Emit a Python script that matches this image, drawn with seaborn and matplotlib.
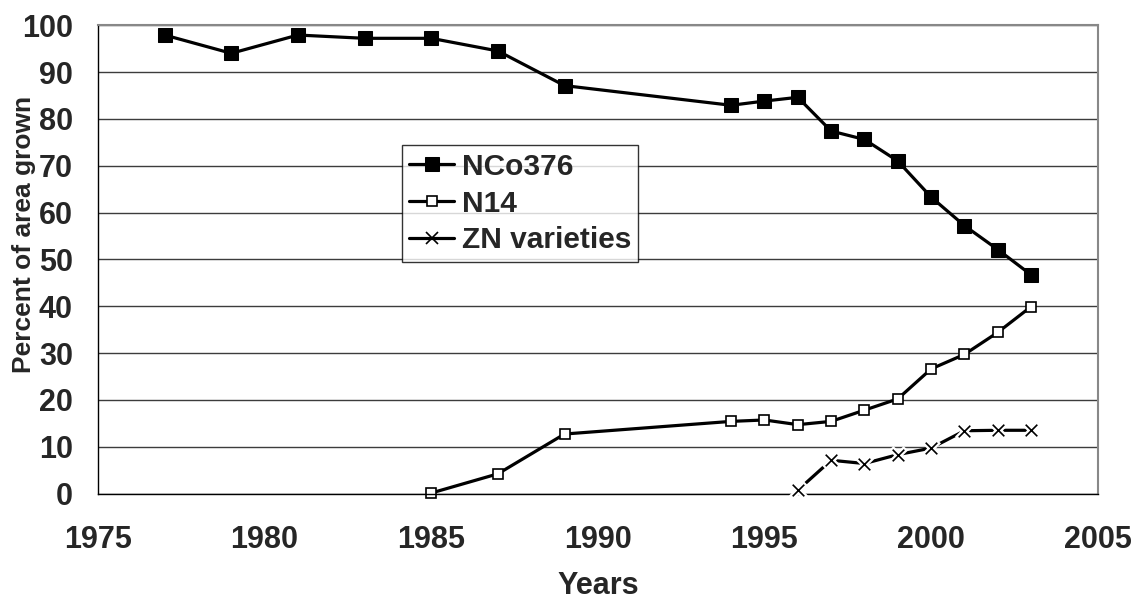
import numpy as np
import pandas as pd
import matplotlib
matplotlib.use("Agg")
import matplotlib.pyplot as plt
import seaborn as sns

# values
nco_years = [1977, 1979, 1981, 1983, 1985, 1987, 1989, 1994, 1995, 1996,
             1997, 1998, 1999, 2000, 2001, 2002, 2003]
nco_pct = [97.9, 94.0, 97.9, 97.2, 97.2, 94.5, 87.1, 82.9, 83.8, 84.6,
           77.4, 75.6, 71.0, 63.3, 57.2, 52.1, 46.7]

n14_years = [1985, 1987, 1989, 1994, 1995, 1996, 1997, 1998, 1999, 2000,
             2001, 2002, 2003]
n14_pct = [0.1, 4.2, 12.7, 15.4, 15.7, 14.7, 15.4, 17.8, 20.2, 26.6,
           29.7, 34.4, 39.9]

zn_years = [1996, 1997, 1998, 1999, 2000, 2001, 2002, 2003]
zn_pct = [0.7, 7.1, 6.4, 8.3, 9.7, 13.4, 13.5, 13.5]

sns.set_style("white")
plt.rcParams["font.family"] = ["Liberation Sans", "DejaVu Sans"]
plt.rcParams["font.weight"] = "bold"

fig, ax = plt.subplots(figsize=(11.34, 6), dpi=100)
fig.subplots_adjust(left=0.0864, right=0.968, top=0.958, bottom=0.1775)

sns.lineplot(x=nco_years, y=nco_pct, ax=ax, color="black", linewidth=2.3,
             marker="s", markersize=10.5, markerfacecolor="black",
             markeredgecolor="black", label="NCo376", clip_on=False)
sns.lineplot(x=n14_years, y=n14_pct, ax=ax, color="black", linewidth=2.3,
             marker="s", markersize=6.5, markerfacecolor="white",
             markeredgecolor="black", markeredgewidth=1.2, label="N14",
             clip_on=False)
sns.lineplot(x=zn_years, y=zn_pct, ax=ax, color="black", linewidth=2.3,
             marker="x", markersize=8, markeredgewidth=1.2,
             markeredgecolor="black", label="ZN varieties", clip_on=False)
# white halo under the crosses gives the small gaps seen in the original
sns.scatterplot(x=zn_years, y=zn_pct, ax=ax, marker="x", s=110, color="white",
                linewidth=4.5, zorder=3, legend=False, clip_on=False)
sns.scatterplot(x=zn_years, y=zn_pct, ax=ax, marker="x", s=70, color="black",
                linewidth=1.2, zorder=4, legend=False, clip_on=False)

ax.set_xlim(1975, 2005)
ax.set_ylim(0, 100)
ax.set_xticks(range(1975, 2006, 5))
ax.set_yticks(range(0, 101, 10))
ax.grid(axis="y", color="#3c3c3c", linewidth=1.0)
ax.set_axisbelow(True)

for side in ["left", "bottom"]:
    ax.spines[side].set_color("black")
    ax.spines[side].set_linewidth(1.0)
for side in ["top", "right"]:
    ax.spines[side].set_color("#888888")
    ax.spines[side].set_linewidth(1.5)

ax.tick_params(axis="both", direction="out", length=7, width=1,
               color="black", labelsize=22)
ax.tick_params(axis="x", pad=16)
ax.tick_params(axis="y", pad=11)
for lab in ax.get_xticklabels() + ax.get_yticklabels():
    lab.set_fontweight("bold")

ax.set_xlabel("Years", fontsize=22, fontweight="bold", labelpad=11)
ax.set_ylabel("Percent of area grown", fontsize=19, fontweight="bold")
ax.yaxis.set_label_coords(-0.062, 0.554)

leg = ax.legend(loc="upper left", bbox_to_anchor=(0.304, 0.744),
                frameon=True, fancybox=False, handlelength=1.5,
                handletextpad=0.25, borderpad=0.25, labelspacing=0.3,
                borderaxespad=0, prop={"weight": "bold", "size": 21.5})
leg.get_frame().set_edgecolor("black")
leg.get_frame().set_linewidth(1.0)

plt.savefig("out.png", dpi=100)
